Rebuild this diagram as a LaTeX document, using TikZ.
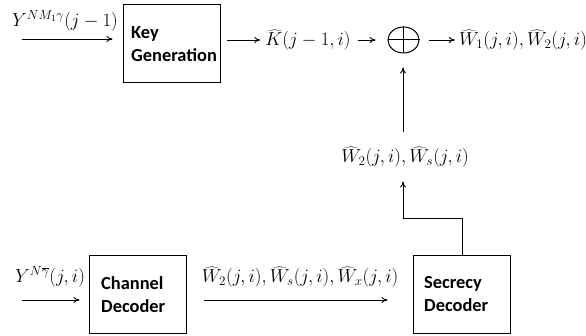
\documentclass[tikz,border=0pt]{standalone}
\usepackage{fix-cm}
\usepackage{fontspec}
\setsansfont{Carlito}
\usetikzlibrary{arrows.meta,shapes.geometric}
\begin{document}
\begin{tikzpicture}[x=1pt,y=-1pt,
  blk/.style={draw,line width=1pt,minimum width=97pt,minimum height=78pt,inner sep=0pt},
  btxt/.style={inner sep=0pt,text width=84pt,align=left,anchor=west,
    font=\fontsize{18.4}{23}\selectfont\sffamily\bfseries},
  lbl/.style={inner sep=0pt,font=\fontsize{18.8}{22}\selectfont},
  arr/.style={-{To[length=6pt,width=6pt]},line width=0.9pt},
  ln/.style={line width=0.9pt}]
\useasboundingbox (0,0) rectangle (586,336);
% boxes
\node[blk] (key) at (171.5,43.5) {};
\node[btxt] at (131,44) {Key\\Generation};
\node[blk] (cd) at (137.5,294.5) {};
\node[btxt] at (101,294.5) {Channel\\Decoder};
\node[blk] (sd) at (461.5,294.5) {};
\node[btxt] at (424,294.5) {Secrecy\\Decoder};
% oplus
\node[draw,ellipse,line width=1pt,minimum width=31pt,minimum height=26pt,inner sep=0pt] (op) at (403.5,40) {};
\draw[line width=1pt] (op.north) -- (op.south) (op.west) -- (op.east);
% labels
\node[lbl] (yin) at (65,21) {$Y^{NM_1\gamma}(j-1)$};
\node[lbl] (khat) at (308,40) {$\widehat{K}(j-1,i)$};
\node[lbl] (wout) at (523,40) {$\widehat{W}_1(j,i),\widehat{W}_2(j,i)$};
\node[lbl] (wmid) at (405,157) {$\widehat{W}_2(j,i),\widehat{W}_s(j,i)$};
\node[lbl] (ybot) at (50,277) {$Y^{N\overline{\gamma}}(j,i)$};
\node[lbl] (wbot) at (300,277) {$\widehat{W}_2(j,i),\widehat{W}_s(j,i),\widehat{W}_x(j,i)$};
% connector ends
\coordinate (a0) at (22,39);
\coordinate (b0) at (22,300);
\coordinate (t1) at (462,218);
\coordinate (t2) at (403,218);
% connectors
\draw[arr,shorten >=10pt] (a0) -- (a0 -| key.west);
\draw[arr,shorten <=6pt,shorten >=5pt] (key.east |- op) -- (khat.west |- op);
\draw[arr,shorten <=7pt,shorten >=12pt] (khat.east |- op) -- (op.west);
\draw[arr,shorten <=9pt,shorten >=4pt] (op.east) -- (wout.west |- op);
\draw[arr,shorten >=9pt] (b0) -- (b0 -| cd.west);
\draw[arr,shorten <=17pt,shorten >=25pt] (cd.east |- b0) -- (sd.west |- b0);
\draw[ln] (sd.north -| t1) -- (t1) -- (t2);
\draw[arr,shorten >=14pt] (t2) -- (wmid.south -| t2);
\draw[arr,shorten <=14pt,shorten >=14pt] (wmid.north -| t2) -- (op.south -| t2);
\end{tikzpicture}
\end{document}
